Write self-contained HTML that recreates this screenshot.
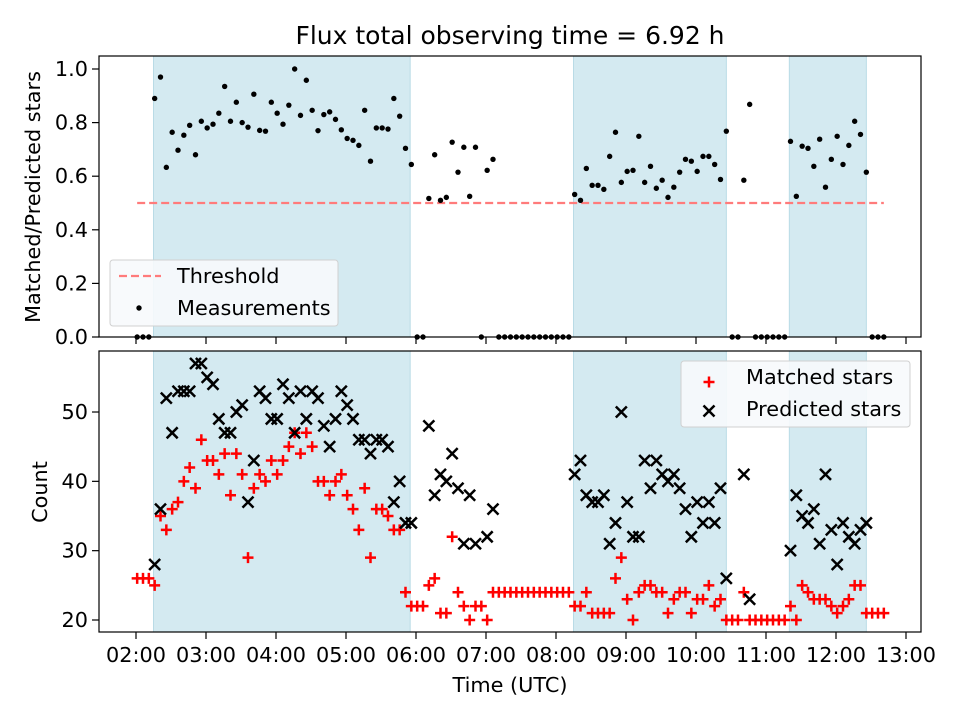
<!DOCTYPE html>
<html><head><meta charset="utf-8"><title>Flux total observing time</title>
<style>
html,body{margin:0;padding:0;background:#fff;}
svg text{font-family:"DejaVu Sans","Liberation Sans",sans-serif;fill:#000;}
</style></head>
<body>
<svg id="chart" xmlns="http://www.w3.org/2000/svg" width="960" height="720" viewBox="0 0 960 720">
<rect width="960" height="720" fill="#fff"/>
<text x="510" y="44" font-size="25" text-anchor="middle">Flux total observing time = 6.92 h</text>
<g id="topPanel"></g>
<g id="botPanel"></g>
<text x="510" y="692" font-size="20.8" text-anchor="middle">Time (UTC)</text>
<text transform="translate(40,197) rotate(-90)" font-size="20.8" text-anchor="middle">Matched/Predicted stars</text>
<text transform="translate(47,492) rotate(-90)" font-size="20.8" text-anchor="middle">Count</text>
</svg>
<script>
// minutes after 02:00
const times = [1,6,11,16,21,26,31,36,41,46,51,56,61,66,71,76,81,86,91,96,101,106,111,116,121,126,131,136,141,146,151,156,161,166,171,176,181,186,191,196,201,206,211,216,221,226,231,236,241,246,251,256,261,266,271,276,281,286,291,296,301,306,311,316,321,326,331,336,341,346,351,356,361,366,371,376,381,386,391,396,401,406,411,416,421,426,431,436,441,446,451,456,461,466,471,476,481,486,491,496,501,506,511,516,521,526,531,536,541,546,551,556,561,566,571,576,581,586,591,596,601,606,611,616,621,626,631,636,641];
const ratio = [0,0,0,.89,.97,.633,.764,.697,.753,.79,
.68,.805,.78,.794,.835,.935,.805,.876,.80,.783,
.906,.771,.768,.876,.835,.794,.865,1.0,.827,.958,
.846,.77,.83,.84,.812,.773,.741,.734,.715,.846,
.656,.78,.78,.776,.89,.824,.704,.644,0,0,
.517,.68,.51,.521,.727,.615,.708,.525,.708,0,
.622,.663,0,0,0,0,0,0,0,0,
0,0,0,0,0,.532,.51,.629,.566,.566,
.551,.674,.764,.577,.618,.622,.749,.577,.637,.555,
.585,.521,.559,.615,.663,.656,.618,.674,.674,.644,
.588,.768,0,0,.585,.868,0,0,0,0,
0,0,.73,.525,.712,.704,.637,.738,.559,.663,
.749,.644,.715,.805,.756,.615,0,0,0];
const matched = [26,26,26,25,35,33,36,37,40,42,
39,46,43,43,41,44,38,44,41,29,
39,41,40,43,41,43,45,47,44,47,
45,40,40,38,40,41,38,36,33,39,
29,36,36,35,33,33,24,22,22,22,
25,26,21,21,32,24,22,20,22,22,
20,24,24,24,24,24,24,24,24,24,
24,24,24,24,24,22,22,24,21,21,
21,21,26,29,23,20,24,25,25,24,
24,21,23,24,24,21,23,23,25,22,
23,20,20,20,24,20,20,20,20,20,
20,20,22,20,25,24,23,23,23,22,
21,22,23,25,25,21,21,21,21];
const N=null;
const predicted = [N,N,N,28,36,52,47,53,53,53,
57,57,55,54,49,47,47,50,51,37,
43,53,52,49,49,54,52,47,53,49,
53,52,48,45,49,53,51,49,46,46,
44,46,46,45,37,40,34,34,N,N,
48,38,41,40,44,39,31,38,31,N,
32,36,N,N,N,N,N,N,N,N,
N,N,N,N,N,41,43,38,37,37,
38,31,34,50,37,32,32,43,39,43,
41,40,41,39,36,32,37,34,37,34,
39,26,N,N,41,23,N,N,N,N,
N,N,30,38,35,34,36,31,41,33,
28,34,32,31,33,34,N,N,N];
const spanStart = [15,375,560];
const spanEnd = [235,506,626];
const threshold = 0.5;
const thrStart = 1, thrEnd = 641;
const xTickMin = [0,60,120,180,240,300,360,420,480,540,600,660];
const xTickLabels = ["02:00","03:00","04:00","05:00","06:00","07:00","08:00","09:00","10:00","11:00","12:00","13:00"];
const topTicks = [0,0.2,0.4,0.6,0.8,1.0];
const topTickLabels = ["0.0","0.2","0.4","0.6","0.8","1.0"];
const botTicks = [20,30,40,50];
const botTickLabels = ["20","30","40","50"];

const NS="http://www.w3.org/2000/svg";
const L=99,R=921,T1=56,B1=337,T2=351,B2=632;
const xPx=m=>136+m*70/60;
const yTop=v=>337-v*268;
const yBot=c=>620-(c-20)*6.933;
function mk(tag,attrs,parent){const e=document.createElementNS(NS,tag);for(const k in attrs)e.setAttribute(k,attrs[k]);parent.appendChild(e);return e;}
const topG=document.getElementById('topPanel'), botG=document.getElementById('botPanel');

function panel(g,T,B){
  spanStart.forEach((s,i)=>{
    const r=mk('rect',{x:xPx(s),y:T,width:xPx(spanEnd[i])-xPx(s),height:B-T,fill:'#d4eaf1',stroke:'#b9dbe6','stroke-width':1},g);
    
    
  });
  xTickMin.forEach((m,i)=>{
    const t=mk('line',{x1:xPx(m),x2:xPx(m),y1:B,y2:B+7,stroke:'#000','stroke-width':1.2},g);
    
    
  });
}
panel(topG,T1,B1);
panel(botG,T2,B2);

topTicks.forEach((v,i)=>{
  mk('line',{x1:L-7,x2:L,y1:yTop(v),y2:yTop(v),stroke:'#000','stroke-width':1.2},topG);
  const t=mk('text',{x:L-11,y:yTop(v)+7,'font-size':20.8,'text-anchor':'end'},topG);
  t.textContent=topTickLabels[i];
  
  
});
botTicks.forEach((v,i)=>{
  mk('line',{x1:L-7,x2:L,y1:yBot(v),y2:yBot(v),stroke:'#000','stroke-width':1.2},botG);
  const t=mk('text',{x:L-11,y:yBot(v)+7,'font-size':20.8,'text-anchor':'end'},botG);
  t.textContent=botTickLabels[i];
  
  
});
xTickMin.forEach((m,i)=>{
  const t=mk('text',{x:xPx(m),y:662,'font-size':20.8,'text-anchor':'middle'},botG);
  t.textContent=xTickLabels[i];
  
  
});

const th=mk('line',{x1:xPx(thrStart),x2:xPx(thrEnd),y1:yTop(threshold),y2:yTop(threshold),stroke:'#ff7b7b','stroke-width':2.2,'stroke-dasharray':'8,4'},topG);



times.forEach((m,i)=>{
  const c=mk('circle',{cx:xPx(m),cy:yTop(ratio[i]),r:2.7,fill:'#000'},topG);
  
  
});

function plus(g,x,y,col){return mk('path',{d:`M${x-5.5},${y}H${x+5.5}M${x},${y-5.5}V${y+5.5}`,stroke:col,'stroke-width':2.5,fill:'none'},g);}
function cross(g,x,y,col){return mk('path',{d:`M${x-5.5},${y-5.5}L${x+5.5},${y+5.5}M${x-5.5},${y+5.5}L${x+5.5},${y-5.5}`,stroke:col,'stroke-width':2.5,fill:'none'},g);}

times.forEach((m,i)=>{
  if(matched[i]!==null){
    const p=plus(botG,xPx(m),yBot(matched[i]),'#ff0000');
    
    
  }
});
times.forEach((m,i)=>{
  if(predicted[i]!==null){
    const p=cross(botG,xPx(m),yBot(predicted[i]),'#000');
    
    
  }
});

mk('rect',{x:L,y:T1,width:R-L,height:B1-T1,fill:'none',stroke:'#000','stroke-width':1.2},topG);
mk('rect',{x:L,y:T2,width:R-L,height:B2-T2,fill:'none',stroke:'#000','stroke-width':1.2},botG);

const lg1=mk('g',{},topG);


mk('rect',{x:110,y:260,width:228,height:66,rx:3,fill:'#f7fafc','fill-opacity':0.9,stroke:'#d0d0d0'},lg1);
mk('line',{x1:119,x2:161,y1:276,y2:276,stroke:'#ff7b7b','stroke-width':2.2,'stroke-dasharray':'8,4'},lg1);
mk('circle',{cx:139,cy:308,r:2.7,fill:'#000'},lg1);
const a=mk('text',{x:177,y:283,'font-size':20.8},lg1);a.textContent='Threshold';


const b=mk('text',{x:177,y:315,'font-size':20.8},lg1);b.textContent='Measurements';



const lg2=mk('g',{},botG);


mk('rect',{x:681,y:361,width:229,height:66,rx:3,fill:'#f7fafc','fill-opacity':0.9,stroke:'#d0d0d0'},lg2);
plus(lg2,709,382,'#ff0000');
cross(lg2,709,411,'#000');
const c1=mk('text',{x:746,y:384,'font-size':20.8},lg2);c1.textContent='Matched stars';


const c2=mk('text',{x:746,y:416,'font-size':20.8},lg2);c2.textContent='Predicted stars';


</script>
</body></html>
